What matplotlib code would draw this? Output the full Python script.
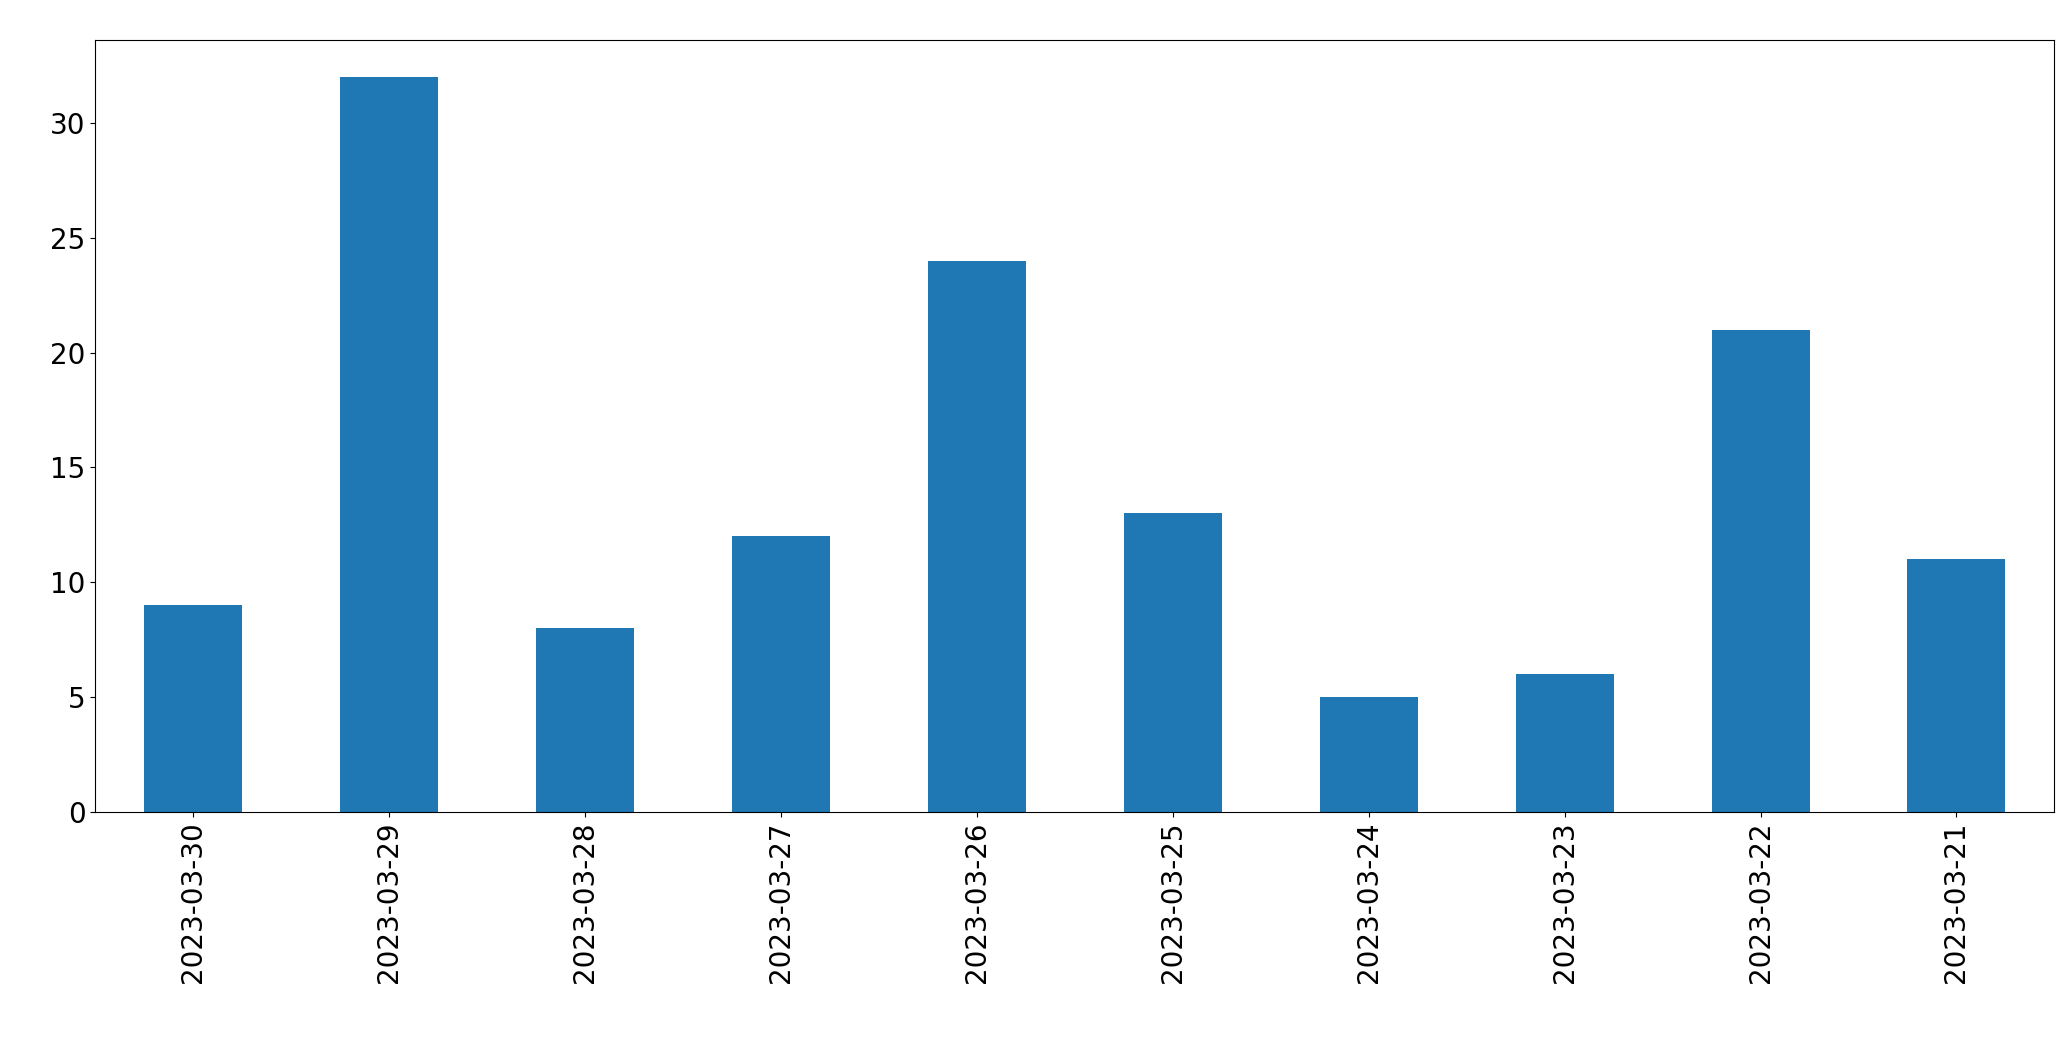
import matplotlib
matplotlib.use("Agg")
import matplotlib.pyplot as plt
import numpy as np

dates = ["2023-03-30", "2023-03-29", "2023-03-28", "2023-03-27", "2023-03-26",
         "2023-03-25", "2023-03-24", "2023-03-23", "2023-03-22", "2023-03-21"]
counts = [9, 32, 8, 12, 24, 13, 5, 6, 21, 11]

fig = plt.figure(figsize=(20.71, 10.61), dpi=100)
ax = fig.add_axes([0.046, 0.235, 0.946, 0.727])
x = np.arange(len(dates))
ax.bar(x, counts, width=0.5, color="#1f77b4")
ax.set_xticks(x)
ax.set_xticklabels(dates, rotation=90)
ax.set_xlim(-0.5, len(dates) - 0.5)
ax.set_ylim(0, 33.6)
ax.tick_params(labelsize=20)
fig.savefig("out.png", dpi=100)
